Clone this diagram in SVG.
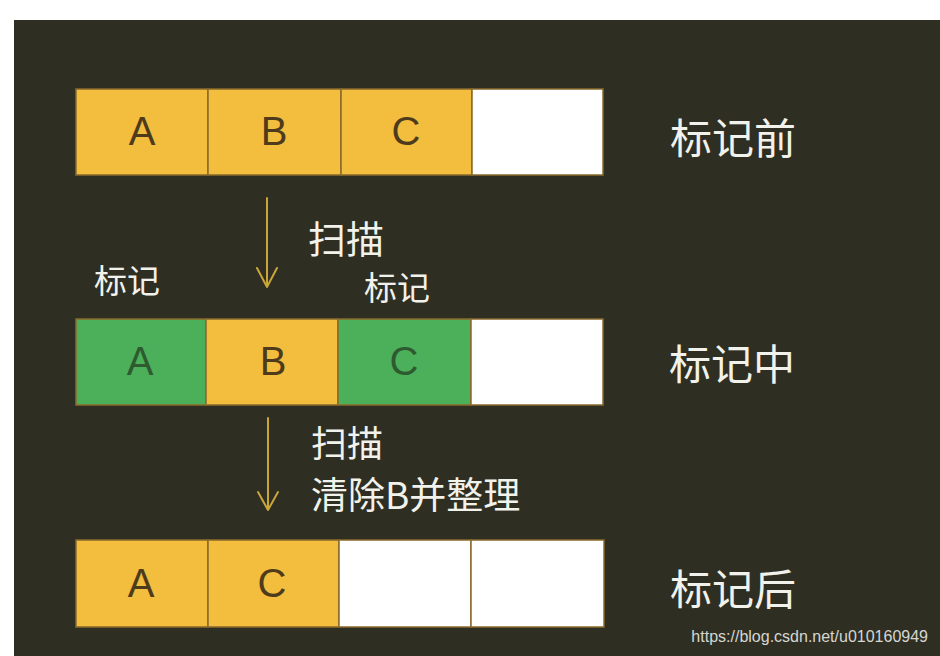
<svg xmlns="http://www.w3.org/2000/svg" width="940" height="656" viewBox="0 0 940 656">
<defs>
<style>
.cell{stroke:#8a6a2c;stroke-width:1.5}
.y{fill:#f3bd3e}
.g{fill:#4caf5a}
.w{fill:#ffffff}
.let{font-family:"Liberation Sans",Arial,sans-serif;font-size:40px;text-anchor:middle}
.ly{fill:#4d3b1c}
.lg{fill:#2e5a30}
.cjk{font-family:"Noto Sans CJK SC","Noto Sans",sans-serif;fill:#f2f2ec}
.arr{stroke:#c9a53a;stroke-width:2;fill:none;stroke-linecap:round;stroke-linejoin:round}
</style>
</defs>
<rect x="0" y="0" width="940" height="656" fill="#ffffff"/>
<rect x="14" y="20" width="926" height="636" fill="#2e2f22"/>

<g id="row1">
<rect class="cell y" x="76" y="89" width="132" height="86"/>
<rect class="cell y" x="208" y="89" width="133" height="86"/>
<rect class="cell y" x="341" y="89" width="131" height="86"/>
<rect class="cell w" x="472" y="89" width="131" height="86"/>
<text class="let ly" x="142" y="145">A</text>
<text class="let ly" x="274" y="145">B</text>
<text class="let ly" x="406" y="145">C</text>
</g>
<g id="label1"><text class="cjk" x="670" y="154" font-size="42">标记前</text></g>

<g id="row2">
<rect class="cell g" x="76" y="319" width="130" height="86"/>
<rect class="cell y" x="206" y="319" width="132" height="86"/>
<rect class="cell g" x="338" y="319" width="133" height="86"/>
<rect class="cell w" x="471" y="319" width="132" height="86"/>
<text class="let lg" x="140" y="375">A</text>
<text class="let ly" x="273" y="375">B</text>
<text class="let lg" x="404" y="375">C</text>
</g>
<g id="label2"><text class="cjk" x="669" y="380" font-size="42">标记中</text></g>
<g id="mark1"><text class="cjk" x="94" y="293" font-size="33">标记</text></g>
<g id="mark2"><text class="cjk" x="364" y="300" font-size="33">标记</text></g>

<g id="row3">
<rect class="cell y" x="76" y="540" width="132" height="87"/>
<rect class="cell y" x="208" y="540" width="131" height="87"/>
<rect class="cell w" x="339" y="540" width="132" height="87"/>
<rect class="cell w" x="471" y="540" width="133" height="87"/>
<text class="let ly" x="141" y="597">A</text>
<text class="let ly" x="272" y="597">C</text>
</g>
<g id="label3"><text class="cjk" x="670" y="605" font-size="42">标记后</text></g>

<g id="connectors">
<path class="arr" d="M267 198 V287 M257 268 L267 287 L277 268"/>
<path class="arr" d="M268 418 V510 M258 492 L268 510 L278 492"/>
</g>
<g id="step1"><text class="cjk" x="308" y="253" font-size="38">扫描</text></g>
<g id="step2">
<text class="cjk" x="311" y="457" font-size="36">扫描</text>
<text class="cjk" x="311" y="509" font-size="37">清除B并整理</text>
</g>
<text x="928" y="642" font-family="Liberation Sans,Arial,sans-serif" font-size="16" fill="#d6d6d2" text-anchor="end">https://blog.csdn.net/u010160949</text>
</svg>
